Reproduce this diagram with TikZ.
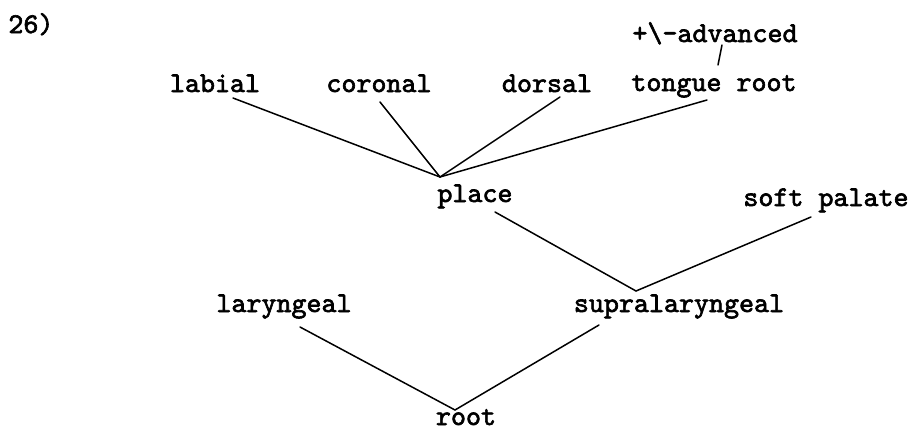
\documentclass[tikz,border=0pt]{standalone}
\usepackage{fontspec}
\usepackage{tikz}
\usetikzlibrary{positioning}
\newfontfamily\featfont{lmmono10-regular.otf}[AutoFakeBold=2.2]
\tikzset{
  featlabel/.style={
    anchor=base,
    inner sep=0pt,
    font=\featfont\bfseries\fontsize{14.3}{16}\selectfont
  },
  branch/.style={line width=0.75pt,draw=black,line cap=round}
}
\begin{document}
\begin{tikzpicture}[x=0.5pt,y=-0.5pt]
    \useasboundingbox (0,0) rectangle (912,429);

    \node[featlabel,anchor=base west] (exnum) at (8,33) {26)};

    % articulators
    \node[featlabel] (advanced) at (715,42) {+\textbackslash-advanced};
    \node[featlabel] (labial) at (215,92) {labial};
    \node[featlabel] (coronal) at (379,92) {coronal};
    \node[featlabel] (dorsal) at (547,92) {dorsal};
    \node[featlabel] (tongueroot) at (714,91) {tongue root};

    % class nodes
    \node[featlabel] (place) at (475,202) {place};
    \node[featlabel] (softpalate) at (826,206) {soft palate};
    \node[featlabel] (laryngeal) at (284,312) {laryngeal};
    \node[featlabel] (supralaryngeal) at (679,312) {supralaryngeal};
    \node[featlabel] (root) at (466,425) {root};

    \coordinate (placetop) at ([shift={(-35,-25)}]place.base);
    \coordinate (supratop) at ([shift={(-43,-21)}]supralaryngeal.base);
    \coordinate (roottop) at ([shift={(-11,-15)}]root.base);

    \draw[branch] ([shift={(7,3)}]advanced.base) -- ([shift={(4,-26)}]tongueroot.base);
    \draw[branch] ([shift={(18,6)}]labial.base) -- (placetop);
    \draw[branch] ([shift={(1,10)}]coronal.base) -- (placetop);
    \draw[branch] ([shift={(13,5)}]dorsal.base) -- (placetop);
    \draw[branch] ([shift={(-7,9)}]tongueroot.base) -- (placetop);

    \draw[branch] ([shift={(20,10)}]place.base) -- (supratop);
    \draw[branch] ([shift={(-15,11)}]softpalate.base) -- (supratop);

    \draw[branch] ([shift={(16,15)}]laryngeal.base) -- (roottop);
    \draw[branch] ([shift={(-80,13)}]supralaryngeal.base) -- (roottop);
\end{tikzpicture}
\end{document}
